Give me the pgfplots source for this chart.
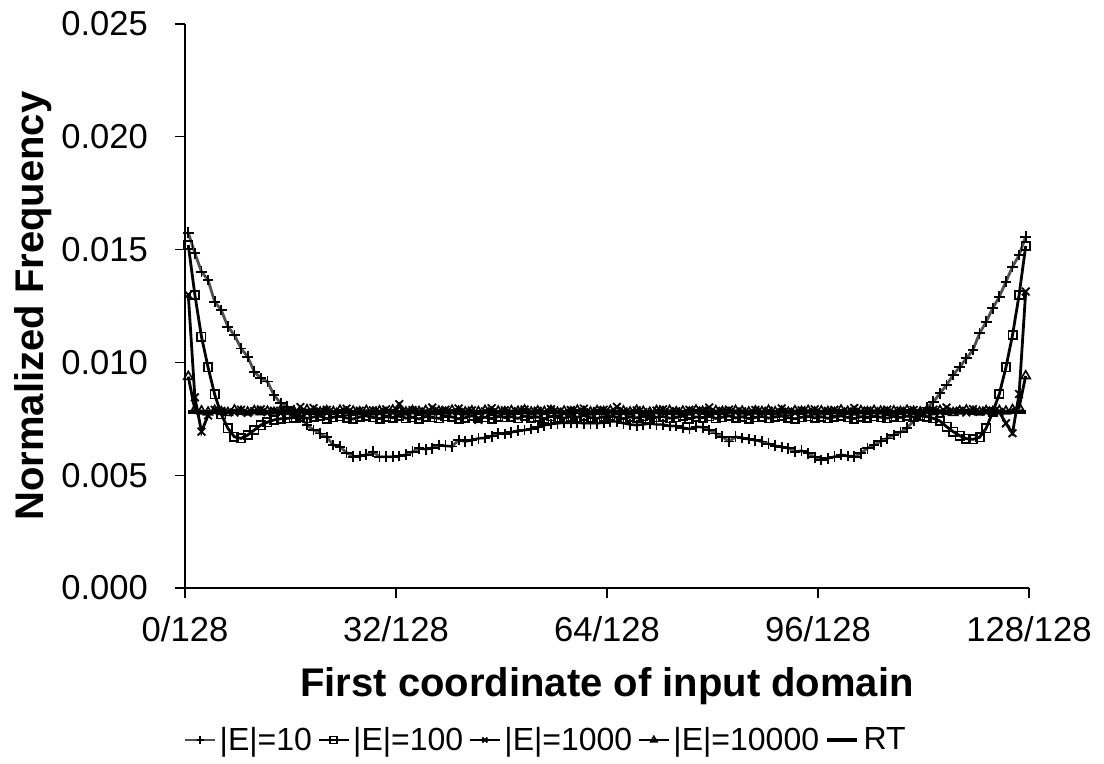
\documentclass[border=0pt]{standalone}
\usepackage{pgfplots}
\pgfplotsset{compat=1.18}
\usepackage{pgfplotstable}
\usepackage{fontspec}
\setmainfont{Liberation Sans}
\definecolor{lgray}{RGB}{80,80,80}
\pgfplotstableread{
x e10 e100 e1000 e10000 rt
0.5 0.01574 0.01520 0.01300 0.00937 0.00781
1.5 0.01484 0.01299 0.00845 0.00790 0.00781
2.5 0.01402 0.01114 0.00693 0.00784 0.00781
3.5 0.01365 0.00978 0.00765 0.00779 0.00781
4.5 0.01269 0.00858 0.00790 0.00786 0.00781
5.5 0.01232 0.00770 0.00785 0.00781 0.00781
6.5 0.01158 0.00708 0.00780 0.00777 0.00781
7.5 0.01121 0.00670 0.00778 0.00788 0.00781
8.5 0.01062 0.00663 0.00790 0.00782 0.00781
9.5 0.01025 0.00678 0.00776 0.00779 0.00781
10.5 0.00959 0.00700 0.00784 0.00785 0.00781
11.5 0.00930 0.00722 0.00792 0.00780 0.00781
12.5 0.00915 0.00735 0.00779 0.00783 0.00781
13.5 0.00855 0.00745 0.00786 0.00778 0.00781
14.5 0.00819 0.00750 0.00775 0.00787 0.00781
15.5 0.00804 0.00752 0.00780 0.00781 0.00781
16.5 0.00785 0.00755 0.00768 0.00784 0.00781
17.5 0.00755 0.00760 0.00802 0.00776 0.00781
18.5 0.00723 0.00752 0.00776 0.00789 0.00781
19.5 0.00700 0.00758 0.00798 0.00782 0.00781
20.5 0.00685 0.00762 0.00783 0.00779 0.00781
21.5 0.00668 0.00750 0.00790 0.00785 0.00781
22.5 0.00634 0.00757 0.00778 0.00781 0.00781
23.5 0.00626 0.00761 0.00782 0.00787 0.00781
24.5 0.00600 0.00754 0.00795 0.00778 0.00781
25.5 0.00582 0.00749 0.00779 0.00783 0.00781
26.5 0.00585 0.00758 0.00786 0.00780 0.00781
27.5 0.00590 0.00763 0.00774 0.00786 0.00781
28.5 0.00604 0.00756 0.00788 0.00779 0.00781
29.5 0.00582 0.00751 0.00781 0.00784 0.00781
30.5 0.00582 0.00759 0.00792 0.00777 0.00781
31.5 0.00582 0.00755 0.00777 0.00788 0.00781
32.5 0.00585 0.00762 0.00815 0.00782 0.00781
33.5 0.00590 0.00753 0.00780 0.00779 0.00781
34.5 0.00604 0.00757 0.00789 0.00785 0.00781
35.5 0.00620 0.00749 0.00783 0.00781 0.00781
36.5 0.00615 0.00760 0.00776 0.00786 0.00781
37.5 0.00620 0.00756 0.00800 0.00780 0.00781
38.5 0.00634 0.00752 0.00784 0.00783 0.00781
39.5 0.00630 0.00761 0.00790 0.00778 0.00781
40.5 0.00627 0.00758 0.00778 0.00787 0.00781
41.5 0.00656 0.00750 0.00796 0.00782 0.00781
42.5 0.00650 0.00755 0.00781 0.00779 0.00781
43.5 0.00655 0.00763 0.00787 0.00784 0.00781
44.5 0.00663 0.00754 0.00745 0.00781 0.00781
45.5 0.00665 0.00757 0.00783 0.00786 0.00781
46.5 0.00672 0.00751 0.00797 0.00777 0.00781
47.5 0.00686 0.00760 0.00779 0.00783 0.00781
48.5 0.00683 0.00756 0.00788 0.00780 0.00781
49.5 0.00690 0.00759 0.00775 0.00785 0.00781
50.5 0.00697 0.00752 0.00784 0.00782 0.00781
51.5 0.00700 0.00762 0.00791 0.00788 0.00781
52.5 0.00705 0.00755 0.00780 0.00779 0.00781
53.5 0.00712 0.00758 0.00786 0.00784 0.00781
54.5 0.00722 0.00750 0.00778 0.00781 0.00781
55.5 0.00727 0.00761 0.00793 0.00786 0.00781
56.5 0.00730 0.00756 0.00782 0.00778 0.00781
57.5 0.00733 0.00753 0.00776 0.00783 0.00781
58.5 0.00733 0.00760 0.00789 0.00780 0.00781
59.5 0.00733 0.00757 0.00781 0.00787 0.00781
60.5 0.00730 0.00764 0.00795 0.00782 0.00781
61.5 0.00730 0.00755 0.00779 0.00779 0.00781
62.5 0.00730 0.00752 0.00785 0.00785 0.00781
63.5 0.00733 0.00759 0.00790 0.00781 0.00781
64.5 0.00738 0.00762 0.00778 0.00786 0.00781
65.5 0.00738 0.00756 0.00803 0.00780 0.00781
66.5 0.00730 0.00751 0.00783 0.00784 0.00781
67.5 0.00725 0.00758 0.00777 0.00779 0.00781
68.5 0.00722 0.00754 0.00788 0.00787 0.00781
69.5 0.00725 0.00761 0.00780 0.00782 0.00781
70.5 0.00730 0.00749 0.00760 0.00778 0.00781
71.5 0.00725 0.00757 0.00786 0.00785 0.00781
72.5 0.00725 0.00760 0.00792 0.00781 0.00781
73.5 0.00718 0.00753 0.00779 0.00786 0.00781
74.5 0.00718 0.00756 0.00784 0.00780 0.00781
75.5 0.00710 0.00762 0.00776 0.00783 0.00781
76.5 0.00705 0.00750 0.00790 0.00779 0.00781
77.5 0.00715 0.00758 0.00782 0.00788 0.00781
78.5 0.00712 0.00755 0.00787 0.00782 0.00781
79.5 0.00700 0.00761 0.00800 0.00780 0.00781
80.5 0.00685 0.00752 0.00779 0.00785 0.00781
81.5 0.00670 0.00757 0.00785 0.00781 0.00781
82.5 0.00649 0.00763 0.00791 0.00777 0.00781
83.5 0.00670 0.00754 0.00778 0.00786 0.00781
84.5 0.00665 0.00759 0.00783 0.00783 0.00781
85.5 0.00660 0.00751 0.00775 0.00779 0.00781
86.5 0.00655 0.00756 0.00789 0.00784 0.00781
87.5 0.00649 0.00760 0.00781 0.00781 0.00781
88.5 0.00640 0.00753 0.00786 0.00787 0.00781
89.5 0.00630 0.00758 0.00779 0.00780 0.00781
90.5 0.00625 0.00762 0.00796 0.00783 0.00781
91.5 0.00620 0.00755 0.00782 0.00778 0.00781
92.5 0.00604 0.00750 0.00777 0.00785 0.00781
93.5 0.00608 0.00757 0.00788 0.00782 0.00781
94.5 0.00597 0.00761 0.00780 0.00786 0.00781
95.5 0.00580 0.00754 0.00792 0.00779 0.00781
96.5 0.00567 0.00759 0.00778 0.00784 0.00781
97.5 0.00575 0.00752 0.00785 0.00781 0.00781
98.5 0.00582 0.00758 0.00790 0.00777 0.00781
99.5 0.00590 0.00763 0.00776 0.00788 0.00781
100.5 0.00585 0.00756 0.00783 0.00782 0.00781
101.5 0.00582 0.00751 0.00798 0.00779 0.00781
102.5 0.00597 0.00759 0.00781 0.00785 0.00781
103.5 0.00620 0.00755 0.00787 0.00780 0.00781
104.5 0.00634 0.00761 0.00779 0.00786 0.00781
105.5 0.00650 0.00757 0.00784 0.00783 0.00781
106.5 0.00663 0.00753 0.00791 0.00778 0.00781
107.5 0.00678 0.00760 0.00777 0.00784 0.00781
108.5 0.00690 0.00756 0.00786 0.00781 0.00781
109.5 0.00710 0.00762 0.00780 0.00787 0.00781
110.5 0.00740 0.00758 0.00789 0.00782 0.00781
111.5 0.00770 0.00763 0.00775 0.00779 0.00781
112.5 0.00800 0.00760 0.00783 0.00785 0.00781
113.5 0.00825 0.00752 0.00790 0.00780 0.00781
114.5 0.00863 0.00740 0.00779 0.00786 0.00781
115.5 0.00900 0.00715 0.00800 0.00781 0.00781
116.5 0.00944 0.00693 0.00782 0.00777 0.00781
117.5 0.00980 0.00675 0.00786 0.00784 0.00781
118.5 0.01018 0.00662 0.00778 0.00788 0.00781
119.5 0.01055 0.00659 0.00793 0.00782 0.00781
120.5 0.01129 0.00668 0.00781 0.00779 0.00781
121.5 0.01180 0.00708 0.00787 0.00785 0.00781
122.5 0.01240 0.00780 0.00785 0.00781 0.00781
123.5 0.01291 0.00860 0.00780 0.00786 0.00781
124.5 0.01358 0.00978 0.00730 0.00783 0.00781
125.5 0.01424 0.01121 0.00686 0.00790 0.00781
126.5 0.01476 0.01299 0.00860 0.00800 0.00781
127.5 0.01557 0.01516 0.01314 0.00940 0.00781
}\data
\begin{document}
\begin{tikzpicture}
\begin{axis}[
  scale only axis, width=422pt, height=282pt,
  xmin=0, xmax=128, ymin=0, ymax=0.025,
  axis x line*=bottom, axis y line*=left,
  axis line style={line width=0.6pt, black},
  clip=false,
  tick align=outside, major tick length=5pt,
  tick style={line width=0.6pt, black},
  xtick={0,32,64,96,128},
  xticklabels={0/128,32/128,64/128,96/128,128/128},
  ytick={0,0.005,0.01,0.015,0.02,0.025},
  yticklabels={0.000,0.005,0.010,0.015,0.020,0.025},
  scaled y ticks=false,
  /pgf/number format/assume math mode=true,
  ticklabel style={font=\fontsize{17.3}{20}\selectfont},
  xticklabel style={yshift=-5.5pt},
  yticklabel style={xshift=-10pt},
  xlabel={First coordinate of input domain},
  ylabel={Normalized Frequency},
  xlabel style={font=\fontsize{20}{24}\selectfont\bfseries, at={(axis description cs:0.5,-0.193)}, anchor=base},
  ylabel style={font=\fontsize{20}{24}\selectfont\bfseries, at={(axis description cs:-0.168,0.5)}, anchor=base},
  legend style={draw=none, fill=none, at={(axis description cs:0.429,-0.2695)}, anchor=center,
    font=\fontsize{16}{19}\selectfont, legend columns=-1,
    /tikz/every even column/.append style={column sep=1pt}},
  legend image code/.code={\draw[#1, line width=0.6pt, mark repeat=2, mark phase=2, mark size=1.8pt] plot coordinates {(0pt,0pt) (7.5pt,0pt) (15pt,0pt)};},
  every axis plot/.append style={line width=1.4pt},
]
\addplot[lgray, mark=+, mark size=2.7pt, mark options={black, solid, line width=0.9pt}] table[x=x, y=e10] {\data};
\addlegendentry{|E|=10}
\addplot[black, mark=square, mark size=2.1pt, mark options={black, fill=white, solid, line width=0.8pt}] table[x=x, y=e100] {\data};
\addlegendentry{|E|=100}
\addplot[black, mark=x, mark size=2.7pt, mark options={black, solid, line width=0.9pt}] table[x=x, y=e1000] {\data};
\addlegendentry{|E|=1000}
\addplot[black, mark=triangle, mark size=2.6pt, mark options={black, fill=white, solid, line width=0.8pt}] table[x=x, y=e10000] {\data};
\addlegendentry{|E|=10000}
\addplot[black, line width=2.2pt, no marks, legend image code/.code={\draw[black, line width=2.2pt] (0pt,0pt) -- (15pt,0pt);}] table[x=x, y=rt] {\data};
\addlegendentry{RT}
\end{axis}
\path (-92.5pt,-88pt) rectangle (459.5pt,294pt);
\end{tikzpicture}
\end{document}
